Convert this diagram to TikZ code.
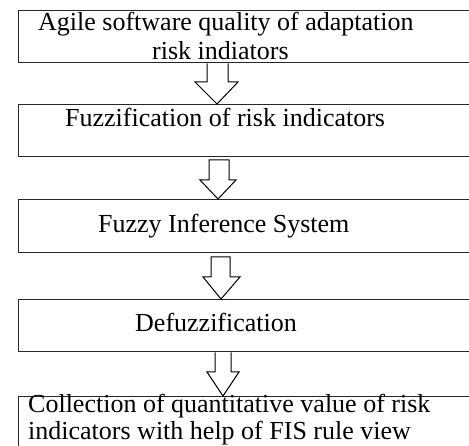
\documentclass[tikz,border=0pt]{standalone}
\usepackage{fontspec}
\setmainfont{Liberation Serif}
\usetikzlibrary{calc}
\begin{document}
\begin{tikzpicture}[x=1pt,y=-1pt,
  box/.style={draw=black!85,line width=1.5pt,rectangle,minimum width=472pt,inner sep=0pt,anchor=north west},
  txt/.style={anchor=base west,inner sep=0pt,font=\fontsize{26}{30}\selectfont},
  blockarr/.style={draw=black,line width=1pt,fill=white,line join=miter}]
\useasboundingbox (0,0) rectangle (469,446);
\clip (0,0) rectangle (469,446);
\fill[white] (0,0) rectangle (469,446);
\node[box,minimum height=52pt] (b1) at (17.5,10) {};
\node[box,minimum height=52pt] (b2) at (17.5,104) {};
\node[box,minimum height=53pt] (b3) at (17.5,199) {};
\node[box,minimum height=52pt] (b4) at (17.5,299) {};
\node[box,minimum height=80pt] (b5) at (17.5,396) {};
\node[txt] (t1a) at (38,30.5) {Agile software quality of adaptation};
\node[txt] (t1b) at (152,60) {risk indiators};
\node[txt] (t2) at (65,126.5) {Fuzzification of risk indicators};
\node[txt] (t3) at (98,233) {Fuzzy Inference System};
\node[txt] (t4) at (135,332) {Defuzzification};
\node[txt] (t5a) at (28,413) {Collection of quantitative value of risk};
\node[txt] (t5b) at (28,440) {indicators with help of FIS rule view};
\draw[blockarr] let \p1=(b1.south), \p2=(b2.north) in
  (207pt,\y1) -- (207pt,-82pt) -- (195pt,-82pt) -- (217pt,\y2) -- (238pt,-82pt) -- (228pt,-82pt) -- (228pt,\y1);
\draw[blockarr] let \p2=(b3.north) in
  (209pt,-160pt) -- (209pt,-180pt) -- (200pt,-180pt) -- (218pt,\y2) -- (236pt,-180pt) -- (229pt,-180pt) -- (229pt,-160pt) -- cycle;
\draw[blockarr] let \p2=(b4.north) in
  (211pt,-257pt) -- (211pt,-277pt) -- (203pt,-277pt) -- (221pt,\y2) -- (240pt,-277pt) -- (230pt,-277pt) -- (230pt,-257pt) -- cycle;
\draw[blockarr] let \p1=(b4.south), \p2=(b5.north) in
  (215pt,\y1) -- (215pt,-372pt) -- (207pt,-372pt) -- (223pt,\y2) -- (239pt,-372pt) -- (231pt,-372pt) -- (231pt,\y1);
\end{tikzpicture}
\end{document}
